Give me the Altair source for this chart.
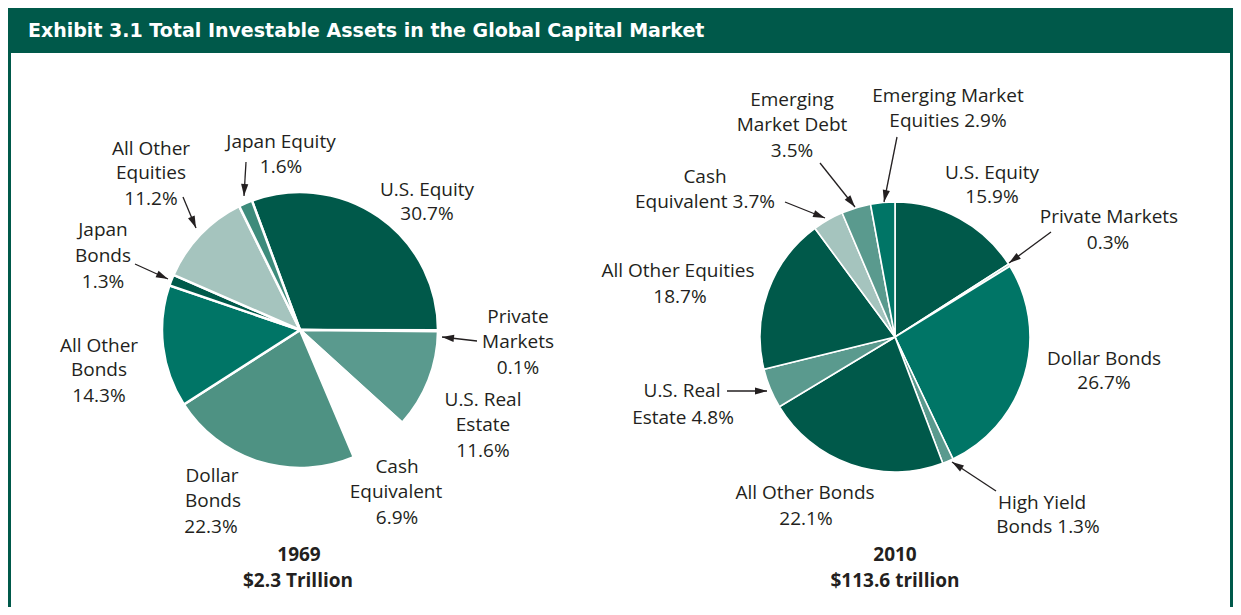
import math
import altair as alt
import pandas as pd

# ---------------- data ----------------
cats_1969 = ["U.S. Equity", "Private Markets", "U.S. Real Estate", "Cash Equivalent",
             "Dollar Bonds", "All Other Bonds", "Japan Bonds", "All Other Equities", "Japan Equity"]
vals_1969 = [30.7, 0.1, 11.6, 6.9, 22.3, 14.3, 1.3, 11.2, 1.6]

cats_2010 = ["U.S. Equity", "Private Markets", "Dollar Bonds", "High Yield Bonds", "All Other Bonds",
             "U.S. Real Estate", "All Other Equities", "Cash Equivalent", "Emerging Market Debt",
             "Emerging Market Equities"]
vals_2010 = [15.9, 0.3, 26.7, 1.3, 22.1, 4.8, 18.7, 3.7, 3.5, 2.9]

title_text = "Exhibit 3.1 Total Investable Assets in the Global Capital Market"
caption_1969 = ["1969", "$2.3 Trillion"]
caption_2010 = ["2010", "$113.6 trillion"]

# how each label is broken into lines ("{v}" = value)
lines_1969 = {
    "U.S. Equity": ["U.S. Equity", "{v}"],
    "Private Markets": ["Private", "Markets", "{v}"],
    "U.S. Real Estate": ["U.S. Real", "Estate", "{v}"],
    "Cash Equivalent": ["Cash", "Equivalent", "{v}"],
    "Dollar Bonds": ["Dollar", "Bonds", "{v}"],
    "All Other Bonds": ["All Other", "Bonds", "{v}"],
    "Japan Bonds": ["Japan", "Bonds", "{v}"],
    "All Other Equities": ["All Other", "Equities", "{v}"],
    "Japan Equity": ["Japan Equity", "{v}"],
}
lines_2010 = {
    "U.S. Equity": ["U.S. Equity", "{v}"],
    "Private Markets": ["Private Markets", "{v}"],
    "Dollar Bonds": ["Dollar Bonds", "{v}"],
    "High Yield Bonds": ["High Yield", "Bonds {v}"],
    "All Other Bonds": ["All Other Bonds", "{v}"],
    "U.S. Real Estate": ["U.S. Real", "Estate {v}"],
    "All Other Equities": ["All Other Equities", "{v}"],
    "Cash Equivalent": ["Cash", "Equivalent {v}"],
    "Emerging Market Debt": ["Emerging", "Market Debt", "{v}"],
    "Emerging Market Equities": ["Emerging Market", "Equities {v}"],
}

# ---------------- layout / style ----------------
W, H = 1225, 599
DARK = "#00594A"
TEAL = "#007566"
MED = "#5A9A8E"
MED2 = "#4E9283"
MED3 = "#3D8B7B"
LIGHT = "#A5C4BE"
TXT = "#231F20"
FONT = "Open Sans"
FS = 19

colors_1969 = [DARK, TEAL, MED, "#FFFFFF", MED2, TEAL, DARK, LIGHT, MED3]
colors_2010 = [DARK, LIGHT, TEAL, MED, DARK, MED, DARK, LIGHT, MED, TEAL]

# label line anchors (pixel positions within the plot area)
pos_1969 = {
    "U.S. Equity": [(419, 182), (419, 206)],
    "Private Markets": [(510, 309), (510, 334), (510, 360)],
    "U.S. Real Estate": [(475, 392), (475, 417), (475, 443)],
    "Cash Equivalent": [(389, 459), (388, 484), (389, 510)],
    "Dollar Bonds": [(204, 468), (205, 493), (203, 519)],
    "All Other Bonds": [(91, 338), (91, 362), (91, 388)],
    "Japan Bonds": [(95, 222), (95, 248), (95, 274)],
    "All Other Equities": [(143, 141), (143, 165), (143, 191)],
    "Japan Equity": [(273, 134), (273, 159)],
}
pos_2010 = {
    "U.S. Equity": [(984, 165), (984, 189)],
    "Private Markets": [(1101, 209), (1100, 235)],
    "Dollar Bonds": [(1096, 351), (1096, 375)],
    "High Yield Bonds": [(1034, 495), (1040, 519)],
    "All Other Bonds": [(797, 485), (798, 511)],
    "U.S. Real Estate": [(674, 383), (675, 410)],
    "All Other Equities": [(670, 263), (672, 289)],
    "Cash Equivalent": [(697, 169), (697, 194)],
    "Emerging Market Debt": [(784, 92), (784, 117), (784, 143)],
    "Emerging Market Equities": [(940, 88), (940, 113)],
}
cap_pos_1969 = [(291, 547), (290, 573)]
cap_pos_2010 = [(887, 547), (887, 573)]

# arrows: start (x, y) -> tip (x, y)
arrows = [
    (238, 154, 236, 188), (175, 189, 188, 220), (127, 256, 160, 271), (469, 333, 434, 329),
    (889, 129, 876, 194), (812, 155, 847, 199), (777, 194, 817, 210), (1043, 224, 1001, 255),
    (988, 483, 944, 454), (719, 383, 759, 383),
]


def px(field):
    return alt.X(field, scale=None, axis=None)


def py(field):
    return alt.Y(field, scale=None, axis=None)


def pie(cats, vals, colors, cx, cy, r, start_deg, sw):
    df = pd.DataFrame({"cat": cats, "v": vals, "i": list(range(len(cats)))})
    s = math.radians(start_deg)
    return alt.Chart(df).mark_arc(outerRadius=r, stroke="white", strokeWidth=sw).encode(
        theta=alt.Theta("v:Q", stack=True, scale=alt.Scale(range=[s, s + 2 * math.pi])),
        color=alt.Color("cat:N", scale=alt.Scale(domain=cats, range=colors), legend=None),
        order=alt.Order("i:Q"),
        x=alt.value(cx),
        y=alt.value(cy),
    )


def label_rows(cats, vals, lines, pos):
    rows = []
    for c, v in zip(cats, vals):
        for t, (x, y) in zip(lines[c], pos[c]):
            rows.append({"t": t.replace("{v}", f"{v:.1f}%"), "x": x, "y": y})
    return rows


frame_df = pd.DataFrame({
    "x": [0, 0, W - 3], "x2": [W, 3, W], "y": [0, 45, 45], "y2": [45, H, H]
})
frame = alt.Chart(frame_df).mark_rect(color=DARK).encode(
    x=px("x:Q"), x2="x2:Q", y=py("y:Q"), y2="y2:Q"
)

title = alt.Chart(pd.DataFrame({"t": [title_text], "x": [20], "y": [23]})).mark_text(
    font="DejaVu Sans", fontSize=19, fontWeight="bold", color="white", align="left", baseline="middle"
).encode(x=px("x:Q"), y=py("y:Q"), text="t:N")

pie1 = pie(cats_1969, vals_1969, colors_1969, 292, 322, 138, 339.6, 2.5)
pie2 = pie(cats_2010, vals_2010, colors_2010, 887, 329, 135, 0, 1.6)

lab_df = pd.DataFrame(label_rows(cats_1969, vals_1969, lines_1969, pos_1969)
                      + label_rows(cats_2010, vals_2010, lines_2010, pos_2010))
labels = alt.Chart(lab_df).mark_text(
    font=FONT, fontSize=FS, color=TXT, align="center", baseline="middle"
).encode(x=px("x:Q"), y=py("y:Q"), text="t:N")

cap_df = pd.DataFrame(
    [{"t": t, "x": x, "y": y} for t, (x, y) in zip(caption_1969, cap_pos_1969)]
    + [{"t": t, "x": x, "y": y} for t, (x, y) in zip(caption_2010, cap_pos_2010)]
)
captions = alt.Chart(cap_df).mark_text(
    font=FONT, fontSize=FS, fontWeight="bold", color=TXT, align="center", baseline="middle"
).encode(x=px("x:Q"), y=py("y:Q"), text="t:N")

arr_df = pd.DataFrame(arrows, columns=["x", "y", "x2", "y2"])
arr_df["ang"] = [(math.degrees(math.atan2(x2 - x, -(y2 - y))) + 360) % 360
                 for x, y, x2, y2 in arrows]
lines_ = alt.Chart(arr_df).mark_rule(color=TXT, strokeWidth=1.3).encode(
    x=px("x:Q"), y=py("y:Q"), x2="x2:Q", y2="y2:Q"
)
heads = alt.Chart(arr_df).mark_point(
    shape="M0,0L0.3,1L-0.3,1Z", filled=True, size=576, color=TXT, opacity=1, strokeWidth=0
).encode(x=px("x2:Q"), y=py("y2:Q"), angle=alt.Angle("ang:Q", scale=None))

chart = alt.layer(frame, title, pie1, pie2, lines_, heads, labels, captions).resolve_scale(
    theta="independent", color="independent"
).properties(
    width=W, height=H, padding=0, autosize=alt.AutoSizeParams(type="none"), background="white"
).configure_view(stroke=None)

chart.save("out.html", embed_options={"renderer": "svg", "actions": False})
